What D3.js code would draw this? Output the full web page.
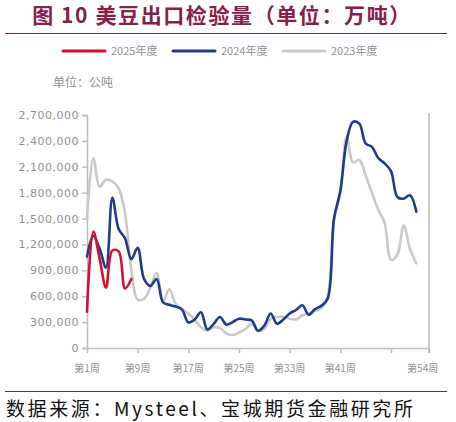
<!DOCTYPE html>
<html>
<head>
<meta charset="utf-8">
<script src="https://cdn.jsdelivr.net/npm/d3@7/dist/d3.min.js"></script>
<style>
  body { margin: 0; background: #fff; }
  svg { display: block; font-family: "Noto Sans CJK SC", "Noto Sans", sans-serif; }
</style>
</head>
<body>
<div id="chart"></div>
<script>
// weekly US soybean export inspections (metric tons)
var weeks2025 = [1, 2, 3, 4, 5, 6, 7, 8];
var values2025 = [420000, 1350000, 1030000, 700000, 1130000, 1120000, 690000, 800000];

var weeks = d3.range(1, 54);
var values2024 = [1060000, 1300000, 1150000, 930000, 1740000, 1380000, 1270000, 1030000, 1160000, 800000,
    720000, 800000, 530000, 500000, 480000, 445000, 295000, 330000, 415000, 215000,
    280000, 360000, 270000, 300000, 340000, 330000, 320000, 200000, 260000, 400000,
    280000, 330000, 400000, 440000, 495000, 385000, 450000, 490000, 570000, 1500000,
    1820000, 2400000, 2620000, 2600000, 2370000, 2330000, 2200000, 2140000, 2050000, 1750000,
    1730000, 1770000, 1580000];
var values2023 = [1500000, 2200000, 1870000, 1950000, 1930000, 1850000, 1560000, 900000, 560000, 570000,
    700000, 870000, 540000, 680000, 510000, 450000, 400000, 330000, 240000, 200000,
    240000, 230000, 170000, 150000, 180000, 220000, 280000, 200000, 220000, 340000,
    360000, 360000, 340000, 330000, 380000, 400000, 430000, 460000, 600000, 1480000,
    1800000, 2450000, 2150000, 2180000, 2000000, 1800000, 1600000, 1450000, 1020000, 1080000,
    1420000, 1150000, 980000];

var yTicks = [0, 300000, 600000, 900000, 1200000, 1500000, 1800000, 2100000, 2400000, 2700000];
var xTickWeeks = [1, 9, 17, 25, 33, 41, 49, 55];
var xLabelWeeks = [1, 9, 17, 25, 33, 41, 54];
var xLabels = ["第1周", "第9周", "第17周", "第25周", "第33周", "第41周", "第54周"];

var seriesNames = ["2025年度", "2024年度", "2023年度"];
var seriesColors = ["#d3112e", "#1e3c8a", "#c9c9c9"];

var svgWidth = 456;
var svgHeight = 422;
var maroon = "#84214a";
var axisColor = "#bdbdbd";
var labelColor = "#8f8f8f";

var svg = d3.select("#chart")
    .append("svg")
    .attr("width", svgWidth)
    .attr("height", svgHeight);

// title + rules
svg.append("text")
    .attr("x", 222)
    .attr("y", 23)
    .attr("text-anchor", "middle")
    .attr("font-size", 21)
    .attr("font-weight", "bold")
    .attr("letter-spacing", 1.6)
    .attr("fill", maroon)
    .text("图 10 美豆出口检验量（单位：万吨）");

svg.append("line")
    .attr("x1", 5).attr("x2", 447)
    .attr("y1", 33.5).attr("y2", 33.5)
    .attr("stroke", maroon)
    .attr("stroke-width", 1.2);

svg.append("line")
    .attr("x1", 5).attr("x2", 447)
    .attr("y1", 391.5).attr("y2", 391.5)
    .attr("stroke", maroon)
    .attr("stroke-width", 1.2);

svg.append("text")
    .attr("x", 6)
    .attr("y", 416)
    .attr("font-size", 19)
    .attr("fill", "#111")
    .attr("textLength", 407)
    .attr("lengthAdjust", "spacing")
    .text("数据来源：Mysteel、宝城期货金融研究所");

// scales
var x = d3.scaleLinear()
    .domain([1, 55])
    .range([87, 429]);

var y = d3.scaleLinear()
    .domain([0, 2700000])
    .range([348, 115]);

// y axis
var leftAxis = d3.axisLeft(y)
    .tickValues(yTicks)
    .tickSize(5)
    .tickFormat(d3.format(","));

var yAxisG = svg.append("g")
    .attr("transform", "translate(87,0)")
    .call(leftAxis);

yAxisG.select(".domain").attr("stroke", axisColor).attr("stroke-width", 1.5);
yAxisG.selectAll(".tick line").attr("stroke", axisColor).attr("stroke-width", 1.5);
yAxisG.selectAll(".tick text")
    .attr("fill", labelColor)
    .attr("font-size", 11)
    .attr("letter-spacing", 0.5)
    .attr("font-family", "DejaVu Sans, sans-serif")
    .attr("x", -8);

// x axis
var bottomAxis = d3.axisBottom(x)
    .tickValues(xTickWeeks)
    .tickSize(5)
    .tickSizeOuter(0)
    .tickFormat("");

var xAxisG = svg.append("g")
    .attr("transform", "translate(0,348)")
    .call(bottomAxis);

xAxisG.select(".domain").attr("stroke", axisColor).attr("stroke-width", 1.5);
xAxisG.selectAll(".tick line").attr("stroke", axisColor).attr("stroke-width", 1.5);

svg.selectAll(".xlabel")
    .data(xLabelWeeks)
    .enter()
    .append("text")
    .attr("class", "xlabel")
    .attr("x", d => x(d))
    .attr("y", 372)
    .attr("text-anchor", "middle")
    .attr("font-size", 10)
    .attr("fill", labelColor)
    .text((d, i) => xLabels[i]);

// right border line
svg.append("line")
    .attr("x1", x(55)).attr("x2", x(55))
    .attr("y1", 113).attr("y2", 353)
    .attr("stroke", axisColor)
    .attr("stroke-width", 1.5);

// unit label
svg.append("text")
    .attr("x", 53)
    .attr("y", 87)
    .attr("font-size", 12)
    .attr("fill", labelColor)
    .text("单位：公吨");

// lines
var line = d3.line()
    .x(d => x(d[0]))
    .y(d => y(d[1]))
    .curve(d3.curveCatmullRom.alpha(0.5));

var seriesData = [
    d3.zip(weeks2025, values2025),
    d3.zip(weeks, values2024),
    d3.zip(weeks, values2023)
];

// draw 2023 first so the newer years sit on top
[2, 1, 0].forEach(function(i) {
    svg.append("path")
        .datum(seriesData[i])
        .attr("fill", "none")
        .attr("stroke", seriesColors[i])
        .attr("stroke-width", 2.6)
        .attr("stroke-linejoin", "round")
        .attr("stroke-linecap", "round")
        .attr("d", line);
});

// legend
var legendX = [63, 173, 283];
var legend = svg.selectAll(".legend")
    .data(seriesNames)
    .enter()
    .append("g")
    .attr("class", "legend")
    .attr("transform", (d, i) => `translate(${legendX[i]}, 51)`);

legend.append("line")
    .attr("x1", 0).attr("x2", 42)
    .attr("y1", 0).attr("y2", 0)
    .attr("stroke", (d, i) => seriesColors[i])
    .attr("stroke-width", 3)
    .attr("stroke-linecap", "round");

legend.append("text")
    .attr("x", 48)
    .attr("y", 4)
    .attr("font-size", 11)
    .attr("fill", labelColor)
    .text(d => d);
</script>
</body>
</html>
